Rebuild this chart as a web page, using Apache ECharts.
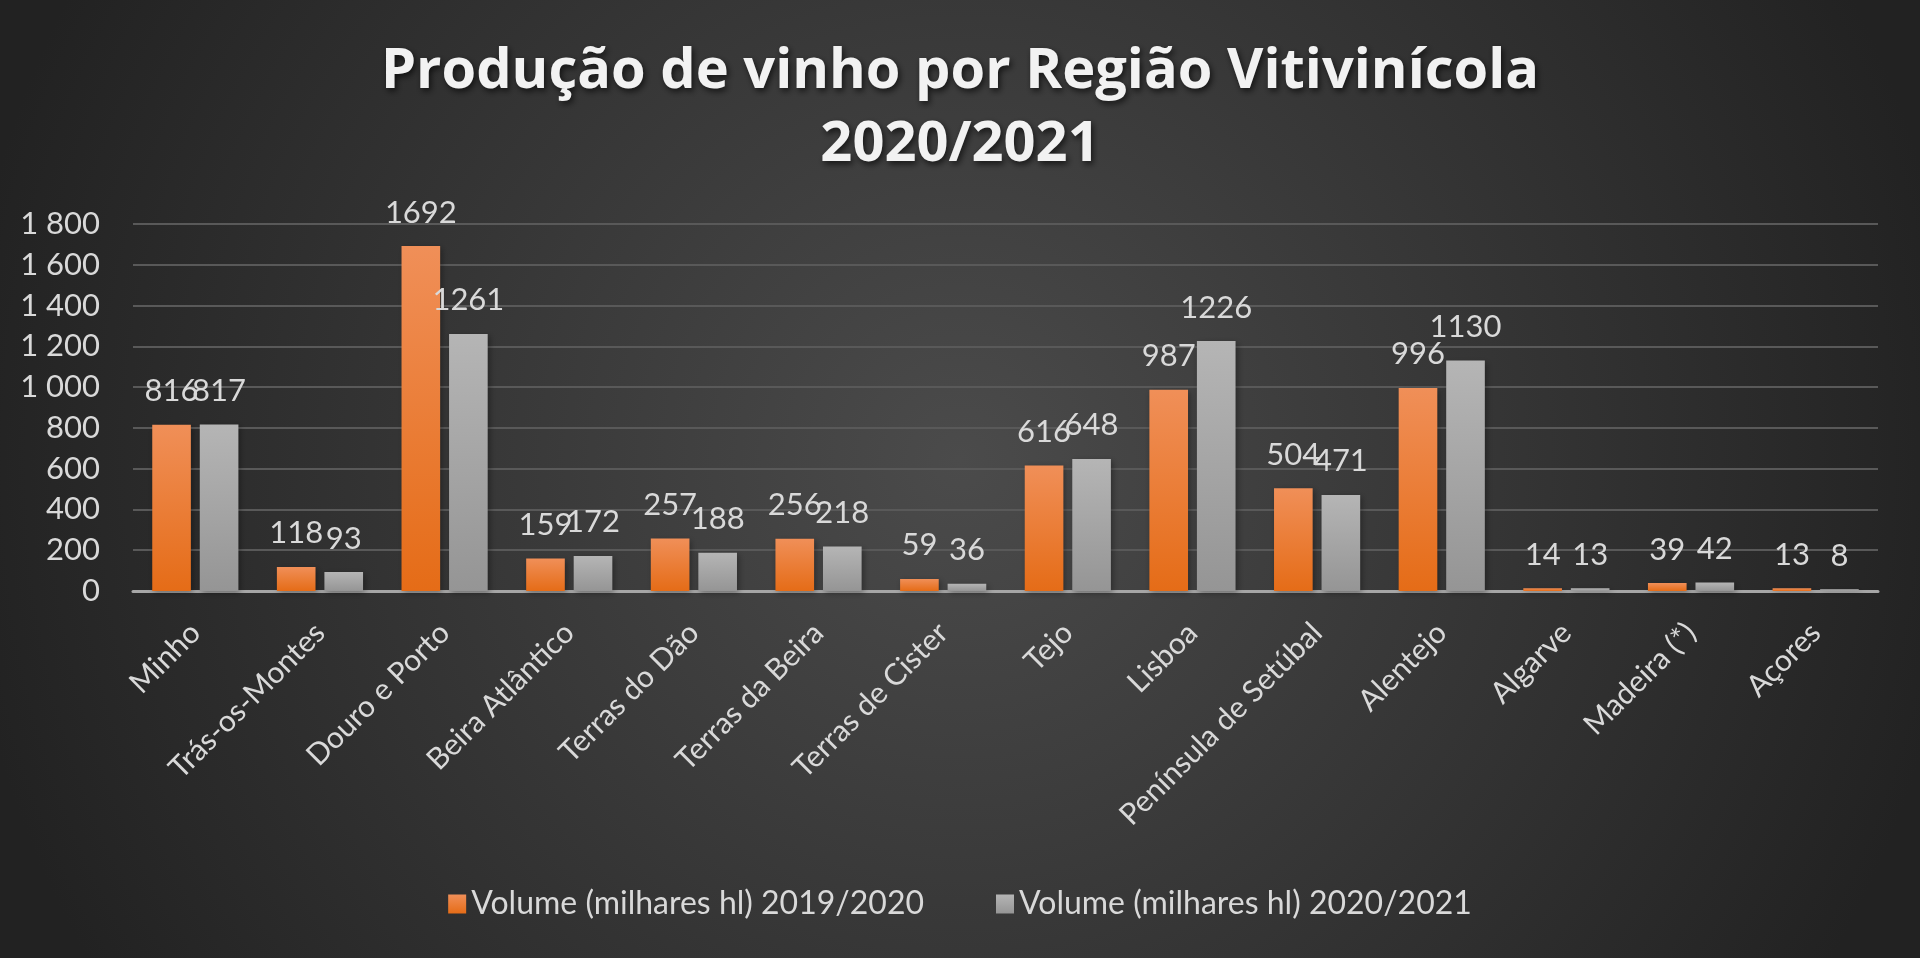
<!DOCTYPE html>
<html>
<head>
<meta charset="utf-8">
<script src="https://cdn.jsdelivr.net/npm/echarts@6/dist/echarts.min.js"></script>
<style>
  html, body { margin: 0; padding: 0; overflow: hidden; background: #333; }
  #chart { width: 1920px; height: 958px; }
</style>
</head>
<body>
<div id="chart"></div>
<script>
// dados (milhares de hl)
const regioes = ['Minho', 'Trás-os-Montes', 'Douro e Porto', 'Beira Atlântico', 'Terras do Dão',
  'Terras da Beira', 'Terras de Cister', 'Tejo', 'Lisboa', 'Península de Setúbal', 'Alentejo',
  'Algarve', 'Madeira (*)', 'Açores'];
const vol20192020 = [816, 118, 1692, 159, 257, 256, 59, 616, 987, 504, 996, 14, 39, 13];
const vol20202021 = [817, 93, 1261, 172, 188, 218, 36, 648, 1226, 471, 1130, 13, 42, 8];
const nomesSeries = ['Volume (milhares hl) 2019/2020', 'Volume (milhares hl) 2020/2021'];
const tituloLinhas = ['Produção de vinho por Região Vitivinícola', '2020/2021'];
const eixoY = { min: 0, max: 1800, interval: 200 };

const fonte = 'Lato, "Open Sans", sans-serif';
const textoCor = '#d9d9d9';

// "1 800" com espaço como separador de milhares
const milhares = (v) => String(v).replace(/\B(?=(\d{3})+(?!\d))/g, ' ');

const grad = (c0, c1) => new echarts.graphic.LinearGradient(0, 0, 0, 1, [
  { offset: 0, color: c0 },
  { offset: 1, color: c1 }
]);

const chart = echarts.init(document.getElementById('chart'), null, { renderer: 'canvas' });

const barLabel = {
  show: true,
  position: 'top',
  distance: 18,
  color: textoCor,
  fontFamily: fonte,
  fontSize: 31
};

const tituloEstilo = {
  color: '#f2f2f2',
  fontFamily: '"Open Sans", Lato, sans-serif',
  fontWeight: 'bold',
  fontSize: 56,
  textShadowColor: 'rgba(0,0,0,0.65)',
  textShadowBlur: 6,
  textShadowOffsetX: 2,
  textShadowOffsetY: 3
};

chart.setOption({
  backgroundColor: new echarts.graphic.RadialGradient(0.5, 0.48, 1.05, [
    { offset: 0, color: '#4b4b4b' },
    { offset: 1, color: '#222222' }
  ]),
  // uma linha por título para ficarem ambas centradas
  title: tituloLinhas.map((t, i) => ({
    text: t,
    left: 'center',
    top: 44 + i * 73,
    padding: 0,
    textStyle: tituloEstilo
  })),
  legend: {
    top: 883,
    left: 'center',
    icon: 'rect',
    itemWidth: 18,
    itemHeight: 19,
    itemGap: 72,
    textStyle: { color: textoCor, fontFamily: fonte, fontSize: 32 },
    data: nomesSeries
  },
  grid: {
    left: 133,
    right: 42,
    top: 224,
    bottom: 367,
    outerBoundsMode: 'none'
  },
  xAxis: {
    type: 'category',
    data: regioes,
    axisTick: { show: false },
    axisLine: { lineStyle: { color: '#a6a6a6', width: 3 } },
    axisLabel: {
      rotate: 45,
      margin: 37,
      interval: 0,
      color: textoCor,
      fontFamily: fonte,
      fontSize: 30
    }
  },
  yAxis: {
    type: 'value',
    min: eixoY.min,
    max: eixoY.max,
    interval: eixoY.interval,
    axisLine: { show: false },
    axisTick: { show: false },
    splitLine: { lineStyle: { color: '#595959', width: 2 } },
    axisLabel: {
      margin: 33,
      color: textoCor,
      fontFamily: fonte,
      fontSize: 31,
      formatter: milhares
    }
  },
  series: [
    {
      name: nomesSeries[0],
      type: 'bar',
      data: vol20192020,
      barWidth: '31%',
      barGap: '23%',
      itemStyle: {
        color: grad('#f08f58', '#e56c17'),
        shadowColor: 'rgba(0,0,0,0.35)',
        shadowBlur: 6,
        shadowOffsetX: 2,
        shadowOffsetY: 2
      },
      label: barLabel
    },
    {
      name: nomesSeries[1],
      type: 'bar',
      data: vol20202021,
      barWidth: '31%',
      itemStyle: {
        color: grad('#b5b5b5', '#959595'),
        shadowColor: 'rgba(0,0,0,0.35)',
        shadowBlur: 6,
        shadowOffsetX: 2,
        shadowOffsetY: 2
      },
      label: barLabel
    }
  ]
});
</script>
</body>
</html>
